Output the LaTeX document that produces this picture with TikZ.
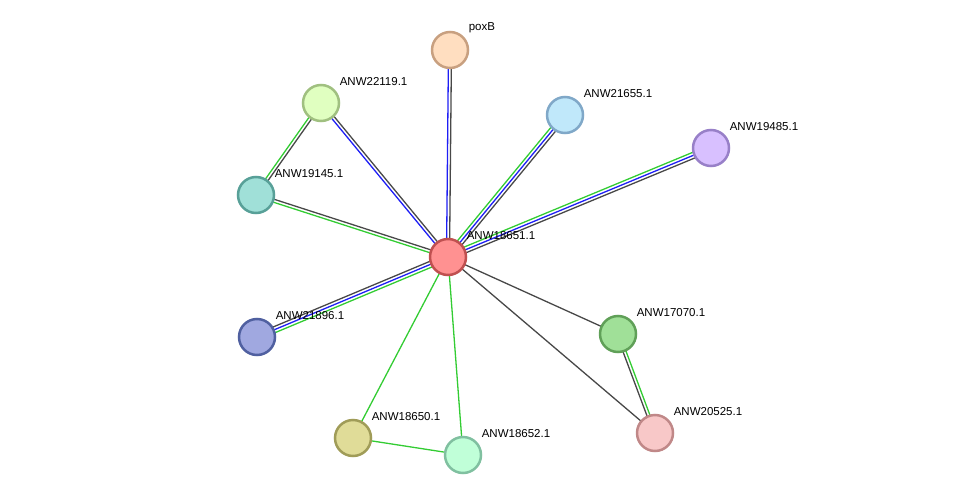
\documentclass[tikz,border=0pt]{standalone}
\usepackage{fontspec}
\setmainfont{Liberation Sans}
\usepackage{xcolor}
\usetikzlibrary{calc,backgrounds}

\definecolor{evgreen}{RGB}{51,204,51}
\definecolor{evblue}{RGB}{30,30,245}
\definecolor{evgray}{RGB}{72,72,72}

\definecolor{fCenter}{RGB}{255,145,145}  \definecolor{dCenter}{RGB}{192,80,80}
\definecolor{fPox}{RGB}{255,222,192}     \definecolor{dPox}{RGB}{200,160,128}
\definecolor{fA}{RGB}{224,255,192}       \definecolor{dA}{RGB}{160,192,128}
\definecolor{fB}{RGB}{192,232,250}       \definecolor{dB}{RGB}{128,168,200}
\definecolor{fC}{RGB}{216,192,255}       \definecolor{dC}{RGB}{152,128,200}
\definecolor{fD}{RGB}{160,224,216}       \definecolor{dD}{RGB}{88,160,152}
\definecolor{fE}{RGB}{160,168,224}       \definecolor{dE}{RGB}{80,96,160}
\definecolor{fF}{RGB}{160,224,152}       \definecolor{dF}{RGB}{96,160,88}
\definecolor{fG}{RGB}{248,200,200}       \definecolor{dG}{RGB}{192,136,136}
\definecolor{fH}{RGB}{224,220,152}       \definecolor{dH}{RGB}{160,156,88}
\definecolor{fI}{RGB}{192,255,216}       \definecolor{dI}{RGB}{128,192,160}

\tikzset{
  prot/.style 2 args={circle, draw=#2, fill=#1, line width=2.5pt, minimum size=36pt, inner sep=0pt},
  lbl/.style={inner sep=0pt, font=\fontsize{11.5}{13}\selectfont, xshift=5pt, yshift=3.5pt},
  ev/.style={line width=1.3pt},
}
\newcommand{\ppilink}[4]{\draw[ev,#4] ($(#1.center)!#3!90:(#2.center)$) -- ($(#2.center)!#3!-90:(#1.center)$);}

\begin{document}
\begin{tikzpicture}[x=1pt, y=-1pt]
    \useasboundingbox (0,0) rectangle (976,500);

    % proteins
    \node[prot={fCenter}{dCenter}, label={[lbl]45:ANW18651.1}] (c) at (448,257) {};
    \node[prot={fPox}{dPox}, label={[lbl]45:poxB}] (poxB) at (450,50) {};
    \node[prot={fA}{dA}, label={[lbl]45:ANW22119.1}] (n22119) at (321,103) {};
    \node[prot={fB}{dB}, label={[lbl]45:ANW21655.1}] (n21655) at (565,115) {};
    \node[prot={fC}{dC}, label={[lbl]45:ANW19485.1}] (n19485) at (711,148) {};
    \node[prot={fD}{dD}, label={[lbl]45:ANW19145.1}] (n19145) at (256,195) {};
    \node[prot={fE}{dE}, label={[lbl]45:ANW21896.1}] (n21896) at (257,337) {};
    \node[prot={fF}{dF}, label={[lbl]45:ANW17070.1}] (n17070) at (618,334) {};
    \node[prot={fG}{dG}, label={[lbl]45:ANW20525.1}] (n20525) at (655,433) {};
    \node[prot={fH}{dH}, label={[lbl]45:ANW18650.1}] (n18650) at (353,438) {};
    \node[prot={fI}{dI}, label={[lbl]45:ANW18652.1}] (n18652) at (463,455) {};

    % evidence lines
    \begin{scope}[on background layer]
        \ppilink{c}{poxB}{1.5pt}{evblue}
        \ppilink{c}{poxB}{-1.5pt}{evgray}
        \ppilink{c}{n22119}{1.5pt}{evblue}
        \ppilink{c}{n22119}{-1.5pt}{evgray}
        \ppilink{n19145}{n22119}{1.5pt}{evgreen}
        \ppilink{n19145}{n22119}{-1.5pt}{evgray}
        \ppilink{c}{n19145}{1.5pt}{evgreen}
        \ppilink{c}{n19145}{-1.5pt}{evgray}
        \foreach \m in {n21655, n19485, n21896} {
            \ppilink{c}{\m}{3pt}{evgreen}
            \ppilink{c}{\m}{0pt}{evblue}
            \ppilink{c}{\m}{-3pt}{evgray}
        }
        \ppilink{n17070}{n20525}{1.5pt}{evgreen}
        \ppilink{n17070}{n20525}{-1.5pt}{evgray}
        \draw[ev, evgray] (c.center) -- (n17070.center);
        \draw[ev, evgray] (c.center) -- (n20525.center);
        \draw[ev, evgreen] (c.center) -- (n18650.center);
        \draw[ev, evgreen] (c.center) -- (n18652.center);
        \draw[ev, evgreen] (n18650.center) -- (n18652.center);
    \end{scope}
\end{tikzpicture}
\end{document}
